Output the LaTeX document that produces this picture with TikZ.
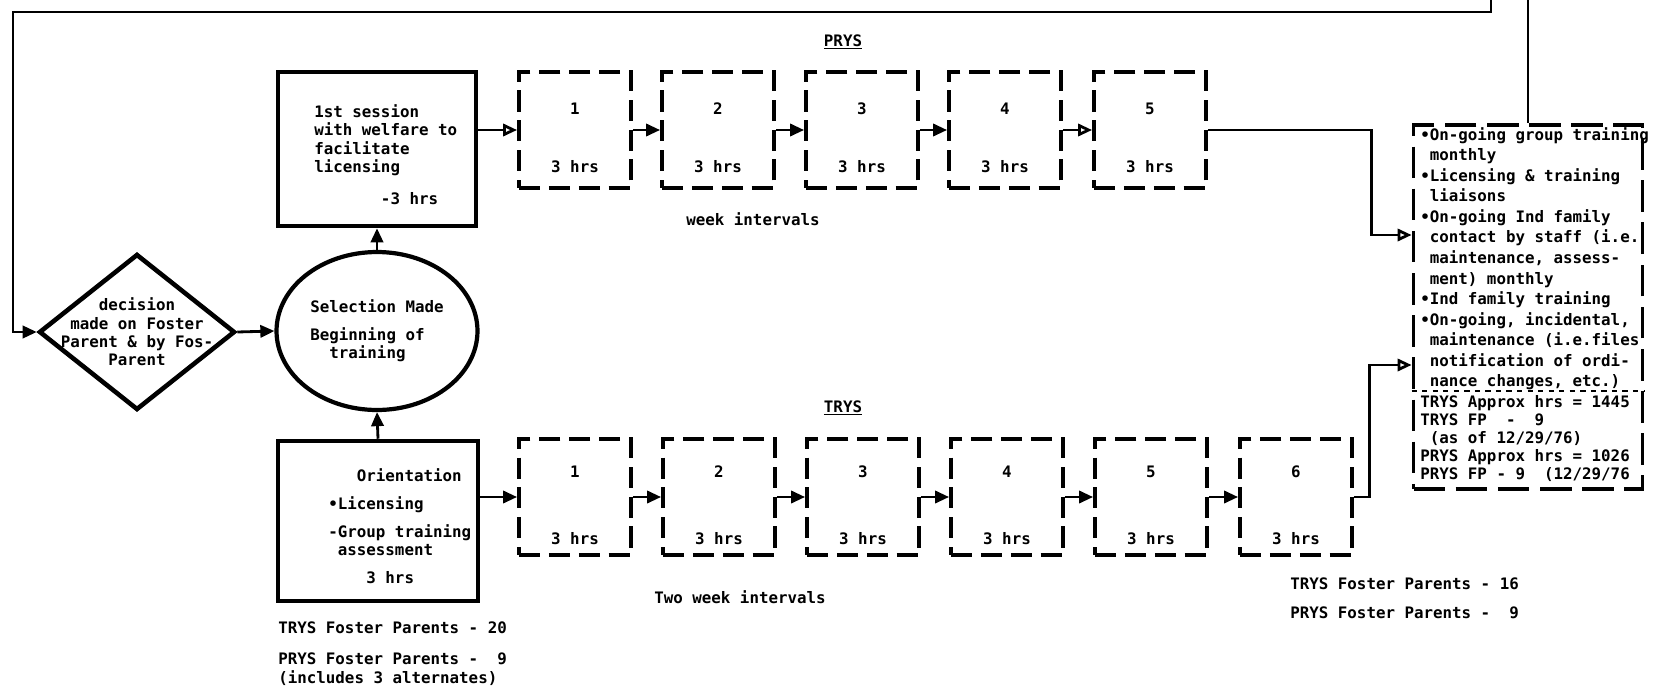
\documentclass[tikz,border=0pt]{standalone}
\usepackage{fontspec}
\setmonofont{DejaVu Sans Mono}
\usetikzlibrary{positioning,shapes.geometric,arrows.meta}

\begin{document}
\begin{tikzpicture}[x=0.02cm, y=-0.02cm,
    font={\ttfamily\bfseries\fontsize{9}{10.5}\selectfont},
    solidbox/.style={draw, line width=2.6pt, inner sep=0pt},
    session/.style={draw, line width=2.2pt, dash pattern=on 12pt off 5pt, minimum width=2.24cm, minimum height=2.32cm, inner sep=0pt, align=center},
    choice/.style={diamond, draw, line width=2.6pt, minimum width=3.92cm, minimum height=3.12cm, inner sep=0pt},
    selnode/.style={ellipse, draw, line width=2.4pt, minimum width=4.02cm, minimum height=3.16cm, inner sep=0pt, align=left},
    conn/.style={line width=1.6pt},
    fwd/.style={-{Triangle[length=8pt,width=7pt]}},
    fwdopen/.style={-{Triangle[open,length=8pt,width=7pt]}}]

  \useasboundingbox (0,0) rectangle (1658,700);

  % decision, selection and the two starting sessions
  \node[choice] (dec) at (137,332) {};
  \node[align=center, inner sep=0pt] (dectext) at (dec) {decision\\made on Foster\\Parent \& by Fos-\\Parent};
  \node[selnode] (sel) at (377,331) {Selection Made\\[5.4pt]Beginning of\\~~training};
  \node[solidbox, minimum width=3.96cm, minimum height=3.08cm] (sess) at (377,149) {};
  \node[anchor=north west, align=left, inner sep=0pt] (sesstext) at (314,104)
    {1st session\\with welfare to\\facilitate\\licensing\\[7.8pt]~~~~~~~-3 hrs};
  \node[solidbox, minimum width=4cm, minimum height=3.2cm] (orient) at (378,521) {};
  \node[anchor=north west, align=left, inner sep=0pt] (orienttext) at (328,468)
    {~~~Orientation\\[5.5pt]•Licensing\\[5.5pt]-Group training\\~assessment\\[5.5pt]~~~~3 hrs};

  % PRYS row: five sessions, week intervals
  \node at (843,42) {\underline{PRYS}};
  \node[session] (p1) at (575,130) {\rule{0pt}{15pt}1\\[22.5pt]3 hrs};
  \node[session] (p2) at (718,130) {\rule{0pt}{15pt}2\\[22.5pt]3 hrs};
  \node[session] (p3) at (862,130) {\rule{0pt}{15pt}3\\[22.5pt]3 hrs};
  \node[session] (p4) at (1005,130) {\rule{0pt}{15pt}4\\[22.5pt]3 hrs};
  \node[session] (p5) at (1150,130) {\rule{0pt}{15pt}5\\[22.5pt]3 hrs};
  \node at (753,219) {week intervals};

  % TRYS row: six sessions, two week intervals
  \node at (843,408) {\underline{TRYS}};
  \node[session] (t1) at (575,497) {\rule{0pt}{16pt}1\\[27.5pt]3 hrs};
  \node[session] (t2) at (719,497) {\rule{0pt}{16pt}2\\[27.5pt]3 hrs};
  \node[session] (t3) at (863,497) {\rule{0pt}{16pt}3\\[27.5pt]3 hrs};
  \node[session] (t4) at (1007,497) {\rule{0pt}{16pt}4\\[27.5pt]3 hrs};
  \node[session] (t5) at (1151,497) {\rule{0pt}{16pt}5\\[27.5pt]3 hrs};
  \node[session] (t6) at (1296,497) {\rule{0pt}{16pt}6\\[27.5pt]3 hrs};
  \node at (740,597) {Two week intervals};

  % counts
  \node[anchor=north west, align=left, inner sep=0pt] (countleft) at (278,621)
    {TRYS Foster Parents - 20\\[7.5pt]PRYS Foster Parents -~~9\\(includes 3 alternates)};
  \node[anchor=north west, align=left, inner sep=0pt] (countright) at (1290,577)
    {TRYS Foster Parents - 16\\[6pt]PRYS Foster Parents -~~9};

  % on-going follow-up box
  \node[draw, line width=2.2pt, dash pattern=on 18pt off 6pt, minimum width=4.58cm, minimum height=7.28cm, inner sep=0pt] (ongoing) at (1528,307) {};
  \node[anchor=north west, align=left, inner sep=0pt, font={\ttfamily\bfseries\fontsize{9}{11.7}\selectfont}] (ongoingtext) at (1420,127)
    {•On-going group training\\~monthly\\•Licensing \& training\\~liaisons\\•On-going Ind family\\~contact by staff (i.e.\\~maintenance, assess-\\~ment) monthly\\•Ind family training\\•On-going, incidental,\\~maintenance (i.e.files\\~notification of ordi-\\~nance changes, etc.)};
  \draw[dashed, line width=0.8pt] (ongoing.west |- 0,391) -- (ongoing.east |- 0,391);
  \node[anchor=north west, align=left, inner sep=0pt, font={\ttfamily\bfseries\fontsize{9}{10.3}\selectfont}] (hourstext) at (1420,395)
    {TRYS Approx hrs = 1445\\TRYS FP~~-~~9\\~(as of 12/29/76)\\PRYS Approx hrs = 1026\\PRYS FP - 9~~(12/29/76};

  % connectors
  \coordinate (loopend) at (1491,0);
  \coordinate (loopleft) at (13,12);
  \coordinate (feedtop) at (1528,0);
  \coordinate (inup) at (ongoing.west |- 0,235);
  \coordinate (indown) at (ongoing.west |- 0,365);
  \draw[conn, fwd] (loopend) |- (loopleft) |- (dec.west);
  \draw[conn] (feedtop) -- (feedtop |- ongoing.north);
  \draw[conn, fwd] (dec.east) -- (sel.west);
  \draw[conn, fwd] (sel.north) -- (sess.south);
  \draw[conn, fwd] (orient.north) -- (sel.south);
  \draw[conn, fwdopen] (sess.east |- p1.west) -- (p1.west);
  \draw[conn, fwd] (p1.east) -- (p2.west);
  \draw[conn, fwd] (p2.east) -- (p3.west);
  \draw[conn, fwd] (p3.east) -- (p4.west);
  \draw[conn, fwdopen] (p4.east) -- (p5.west);
  \draw[conn, fwd] (orient.east |- t1.west) -- (t1.west);
  \draw[conn, fwd] (t1.east) -- (t2.west);
  \draw[conn, fwd] (t2.east) -- (t3.west);
  \draw[conn, fwd] (t3.east) -- (t4.west);
  \draw[conn, fwd] (t4.east) -- (t5.west);
  \draw[conn, fwd] (t5.east) -- (t6.west);
  \draw[conn, fwdopen] (p5.east) -| ([xshift=-0.8cm]inup) -- (inup);
  \draw[conn, fwdopen] (t6.east) -| ([xshift=-0.84cm]indown) -- (indown);
\end{tikzpicture}
\end{document}
